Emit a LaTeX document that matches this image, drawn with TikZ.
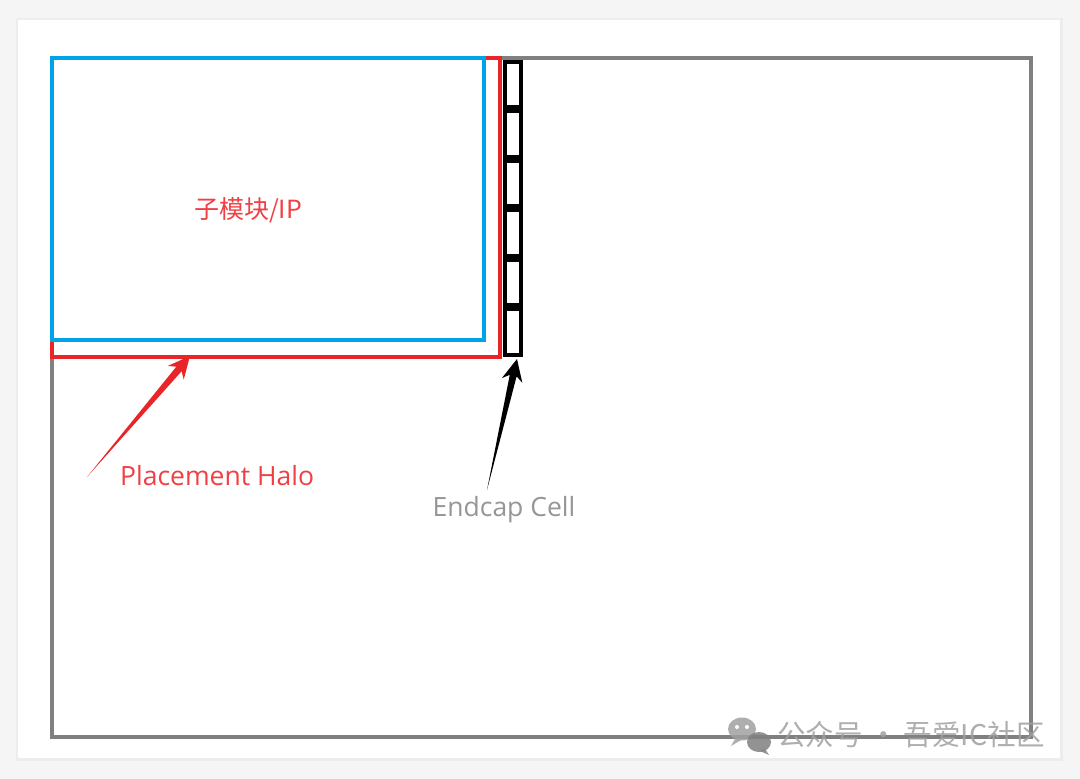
\documentclass[tikz,border=0pt]{standalone}
\usepackage{fontspec}
\setmainfont{Open Sans}
\newfontfamily\cjk{Noto Sans CJK SC}
\usetikzlibrary{calc}

\definecolor{haloRed}{RGB}{232,38,42}
\definecolor{ipBlue}{RGB}{0,162,232}
\definecolor{dieGray}{RGB}{128,128,128}
\definecolor{labelRed}{RGB}{240,64,68}
\definecolor{labelGray}{RGB}{150,150,150}
\definecolor{markGray}{RGB}{160,160,160}

% tapered arrow: colour, tail, tip
\newcommand{\taperarrow}[3]{%
	\fill[#1] (#2) -- ($(#3)!17pt!(#2)!3.5pt!90:(#2)$) -- ($(#3)!22pt!(#2)!10.5pt!90:(#2)$)
		-- (#3) -- ($(#3)!22pt!(#2)!10.5pt!-90:(#2)$) -- ($(#3)!17pt!(#2)!3.5pt!-90:(#2)$) -- cycle;}

\tikzset{
	box/.style={draw, line width=3.2pt, inner sep=0pt, outer sep=0pt, anchor=north west},
	endcapcell/.style={draw=black, line width=4pt, inner sep=0pt, outer sep=0pt,
		minimum width=16pt, minimum height=45.5pt},
}

\begin{document}
\begin{tikzpicture}[x=1pt, y=-1pt]
	\useasboundingbox (0, 0) rectangle (1080, 779);
	\fill[black!4] (0, 0) rectangle (1080, 779);
	\fill[black!7] (16, 18) rectangle (1063, 761);
	\fill[white] (18, 20) rectangle (1060, 758);

	% die, halo, block
	\node[box, draw=dieGray, minimum width=979, minimum height=679] (die) at (52, 58) {};
	\node[box, draw=haloRed, minimum width=448, minimum height=299] (halo) at (52, 58) {};
	\node[box, draw=ipBlue, minimum width=432, minimum height=282] (ip) at (52, 58) {};
	\node[labelRed, font=\cjk\fontsize{25}{28}\selectfont] (iplabel) at (248, 210) {子模块/IP};

	% endcap cells
	\foreach \i in {0,...,5}
		\node[endcapcell] (cell\i) at (513, {60 + 49.5*\i + 24.5}) {};

	% labels and arrows
	\node[labelRed, font=\fontsize{26.5}{30}\selectfont, right, inner sep=0pt] (halolabel) at (120, 476) {Placement Halo};
	\node[labelGray, font=\fontsize{26.5}{30}\selectfont] (endcaplabel) at (504, 510) {Endcap Cell};
	\coordinate (haloTail) at (87, 477);
	\coordinate (haloTip) at (190, 356);
	\coordinate (endcapTail) at (487, 490);
	\coordinate (endcapTip) at (517, 359);
	\taperarrow{haloRed}{haloTail}{haloTip}
	\taperarrow{black}{endcapTail}{endcapTip}

	% watermark
	\fill[markGray, opacity=0.85] (742, 729) ellipse (14 and 11.5);
	\fill[markGray, opacity=0.85] (735, 739) -- (731, 746) -- (741, 740) -- cycle;
	\fill[white] (737, 727) circle (2) (747, 727) circle (2);
	\fill[markGray!80!black, opacity=0.85] (759, 742) ellipse (12 and 10);
	\fill[markGray!80!black, opacity=0.85] (765, 749) -- (769, 755) -- (760, 751) -- cycle;
	\node[markGray, opacity=0.85, font=\cjk\fontsize{28.5}{30}\selectfont, right, inner sep=0pt] (mark) at (777, 735) {公众号 · 吾爱IC社区};
\end{tikzpicture}
\end{document}
